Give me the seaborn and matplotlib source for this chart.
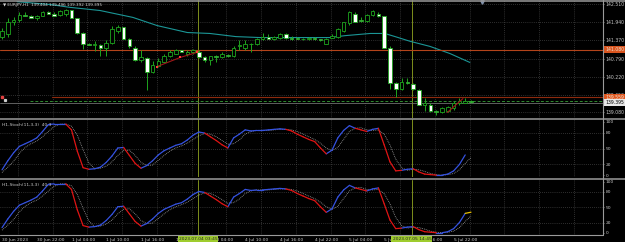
import numpy as np
import pandas as pd
import matplotlib
matplotlib.use("Agg")
import matplotlib.pyplot as plt
from matplotlib.lines import Line2D
import seaborn as sns

# ---- EURJPY H1 values ----
opens = [141.49, 141.56, 141.94, 142.03, 142.19, 142.16, 142.07, 142.16, 142.26, 142.22,
         142.19, 142.22, 142.35, 142.07, 141.62, 141.24, 141.21, 141.21, 141.14, 141.30,
         141.68, 141.78, 141.43, 141.14, 140.76, 140.80, 140.38, 140.57, 140.67, 140.86,
         140.95, 141.05, 140.95, 140.99, 140.99, 140.83, 140.76, 140.86, 140.83, 140.92,
         140.86, 141.18, 141.14, 141.27, 141.24, 141.40, 141.49, 141.40, 141.46, 141.56,
         141.46, 141.46, 141.43, 141.40, 141.46, 141.40, 141.27, 141.46, 141.49, 141.68,
         141.91, 142.22, 142.03, 142.00, 142.19, 142.22, 142.13, 141.14, 140.03, 139.84,
         140.06, 140.00, 139.81, 139.33, 139.33, 139.14, 139.08, 139.14, 139.21, 139.37,
         139.37, 139.46]
highs = [141.75, 142.07, 142.10, 142.26, 142.26, 142.19, 142.19, 142.29, 142.29, 142.26,
         142.32, 142.38, 142.35, 142.07, 141.65, 141.30, 141.34, 141.24, 141.37, 141.84,
         141.87, 141.81, 141.46, 141.18, 141.05, 140.83, 140.73, 140.80, 140.95, 141.05,
         141.11, 141.08, 141.08, 141.11, 141.05, 140.89, 140.89, 140.92, 140.99, 140.95,
         141.18, 141.37, 141.37, 141.30, 141.46, 141.62, 141.56, 141.52, 141.59, 141.59,
         141.52, 141.49, 141.46, 141.49, 141.49, 141.43, 141.46, 141.56, 141.75, 141.97,
         142.29, 142.26, 142.10, 142.22, 142.35, 142.26, 142.16, 141.18, 140.06, 140.19,
         140.19, 140.03, 139.84, 139.53, 139.37, 139.17, 139.24, 139.30, 139.43, 139.53,
         139.53, 139.49]
lows = [141.43, 141.49, 141.87, 141.97, 142.13, 142.07, 142.03, 142.13, 142.22, 142.16,
        142.16, 142.16, 142.07, 141.56, 141.11, 141.21, 141.02, 140.89, 140.86, 141.27,
        141.59, 141.43, 141.14, 140.73, 140.67, 139.81, 140.35, 140.51, 140.67, 140.83,
        140.95, 140.99, 140.89, 140.95, 140.80, 140.67, 140.60, 140.67, 140.80, 140.83,
        140.83, 141.05, 141.08, 140.99, 141.21, 141.37, 141.40, 141.37, 141.43, 141.43,
        141.37, 141.40, 141.37, 141.37, 141.37, 141.34, 141.24, 141.46, 141.46, 141.65,
        141.87, 141.94, 141.97, 141.97, 142.16, 142.10, 141.14, 139.84, 139.56, 139.81,
        139.97, 139.81, 139.33, 139.14, 139.11, 138.99, 139.05, 139.08, 139.17, 139.33,
        139.37, 139.39]
closes = [141.68, 141.94, 142.03, 142.19, 142.16, 142.07, 142.16, 142.26, 142.22, 142.16,
          142.29, 142.32, 142.07, 141.59, 141.27, 141.21, 141.24, 141.14, 141.30, 141.72,
          141.81, 141.43, 141.18, 140.76, 140.83, 140.38, 140.60, 140.70, 140.86, 140.99,
          141.08, 140.99, 140.99, 141.05, 140.83, 140.76, 140.86, 140.83, 140.95, 140.89,
          141.14, 141.21, 141.27, 141.24, 141.43, 141.49, 141.43, 141.49, 141.56, 141.46,
          141.43, 141.43, 141.40, 141.46, 141.40, 141.37, 141.43, 141.52, 141.72, 141.94,
          142.26, 141.97, 142.00, 142.19, 142.29, 142.13, 141.14, 140.03, 139.84, 140.06,
          140.03, 139.84, 139.33, 139.37, 139.14, 139.08, 139.21, 139.24, 139.37, 139.46,
          139.46, 139.40]

stoch_main = [10, 27, 42, 54, 59, 64, 70, 82, 95, 96, 96, 96, 85, 45, 14, 11, 12, 15, 24, 36,
              51, 52, 37, 22, 13, 18, 27, 38, 46, 51, 56, 59, 66, 75, 81, 79, 72, 65, 57, 51,
              70, 77, 85, 83, 84, 84, 85, 86, 87, 86, 83, 77, 72, 67, 63, 51, 40, 47, 70, 84,
              93, 88, 85, 82, 86, 88, 57, 25, 8, 9, 11, 12, 6, 2, 1, 0, 0, 2, 8, 20,
              38, 40.3]
stoch_signal = [5, 15, 26, 41, 52, 59, 64, 72, 82, 91, 96, 96, 92, 75, 48, 23, 12, 13, 17, 25,
                37, 46, 47, 37, 24, 18, 19, 28, 37, 45, 51, 55, 60, 67, 74, 78, 77, 72, 65, 58,
                59, 66, 77, 82, 84, 84, 84, 85, 86, 86, 85, 82, 77, 72, 67, 60, 51, 46, 52, 67,
                82, 88, 89, 85, 84, 85, 77, 57, 30, 14, 9, 11, 10, 7, 3, 1, 0, 1, 3, 10,
                22, 33]

# moving average (teal) read at a few bars
ma_bars = [2.6, 8.3, 11.7, 16.9, 22.6, 26.8, 32.0, 35.9, 40.4, 44.6, 51.5, 56.6,
           59.2, 63.6, 66.1, 67.9, 70.5, 73.9, 77.4, 80.8]
ma_vals = [142.60, 142.51, 142.42, 142.32, 142.10, 141.84, 141.62, 141.59, 141.49, 141.46,
           141.46, 141.46, 141.52, 141.59, 141.59, 141.49, 141.34, 141.18, 140.95, 140.67]

# small red trend segments
trend1_bars = [26.8, 30.8, 33.7]
trend1_vals = [140.54, 140.83, 140.99]
trend2_bars = [76.9, 79.6]
trend2_vals = [139.08, 139.52]

label_bars = list(range(0, 79, 6))
time_labels = ["30 Jun 2023", "30 Jun 22:00", "1 Jul 04:00", "1 Jul 10:00", "1 Jul 16:00",
               "1 Jul 22:00", "4 Jul 04:00", "4 Jul 10:00", "4 Jul 16:00", "4 Jul 22:00",
               "5 Jul 04:00", "5 Jul 10:00", "5 Jul 16:00", "5 Jul 22:00"]
price_ticks = [142.510, 141.940, 141.370, 140.790, 140.220, 139.650, 139.080]
stoch_ticks = [100, 80, 50, 20, 0]
cursor_bars = [33.85, 70.8]
cursor_labels = ["2023.07.04 03:45", "2023.07.05 14:45"]

level_red = 141.080
level_stop = 139.559
bid = 139.395

# ---- style ----
sns.set_theme(style="dark", rc={"axes.facecolor": "black", "figure.facecolor": "black",
                                "text.color": "#c8c8c8", "xtick.color": "#c8c8c8",
                                "ytick.color": "#c8c8c8"})
plt.rcParams['font.family'] = ['DejaVu Sans']

GREEN = "#1ea51e"
GRID = "#5a5a5a"
FRAME = "#9a9a9a"
OLIVE = "#7d8f1c"

W, H = 625, 242
fig = plt.figure(figsize=(W / 100, H / 100), dpi=100)


def px_axes(x0, y0, x1, y1):
    return fig.add_axes([x0 / W, 1 - y1 / H, (x1 - x0) / W, (y1 - y0) / H])


ax = px_axes(0, 0.5, 603, 117.5)
ax1 = px_axes(0, 119.5, 603, 177)
ax2 = px_axes(0, 179.5, 603, 234.5)

XLIM = (-0.35, 103.8)
grid_bars = np.arange(2.75, 104, 6)

for a in (ax, ax1, ax2):
    a.set_xlim(*XLIM)
    for s in a.spines.values():
        s.set_visible(False)
    for g in grid_bars:
        a.axvline(g, color=GRID, lw=0.5, ls=(0, (1, 2)), zorder=0)
    for c in cursor_bars:
        a.axvline(c, color=OLIVE, lw=0.7, zorder=1)
    a.yaxis.tick_right()
    a.tick_params(axis="y", length=1.0, width=0.4, pad=1.0, labelsize=3.3, colors="#c8c8c8")
    a.set_xlabel("")
    a.set_ylabel("")

# ---- main price panel ----
df = pd.DataFrame({"open": opens, "high": highs, "low": lows, "close": closes})
df["bar"] = np.arange(len(df))
bull = df["close"] >= df["open"]

ax.set_ylim(138.921, 142.637)
for p in price_ticks:
    ax.axhline(p, color=GRID, lw=0.5, ls=(0, (1, 2)), zorder=0)

ax.vlines(df["bar"], df["low"], df["high"], color=GREEN, lw=0.7, zorder=3)
body_h = (df["close"] - df["open"]).abs().clip(lower=0.012)
body_b = df[["open", "close"]].min(axis=1)
ax.bar(df["bar"], body_h, bottom=body_b, width=0.62,
       color=np.where(bull, "black", "white"), edgecolor=GREEN, linewidth=0.6, zorder=4)

sns.lineplot(x=ma_bars, y=ma_vals, color="#1b9696", lw=0.8, ax=ax, zorder=2)
sns.lineplot(x=trend1_bars, y=trend1_vals, color="#a01818", lw=0.8, ax=ax, zorder=5,
             marker="s", markersize=1.6, markerfacecolor="#ff3a3a", markeredgewidth=0)
sns.lineplot(x=trend2_bars, y=trend2_vals, color="#a01818", lw=0.8, ax=ax, zorder=5)

ax.axhline(level_red, color="#b4441a", lw=0.8, zorder=2)
ax.plot([8.6, XLIM[1]], [level_stop, level_stop], color="#8e2a0e", lw=0.8, zorder=2)
ax.plot([4.8, XLIM[1]], [bid + 0.04, bid + 0.04], color="#2e8b2e", lw=0.7,
        ls=(0, (3, 2)), zorder=2)
ax.axhline(bid, color="#6e6e6e", lw=0.6, zorder=1)
ax.plot([0.0], [level_stop + 0.01], "s", color="#e04040", ms=1.5, zorder=6)
ax.plot([0.5], [bid + 0.08], "s", color="#d0d0d0", ms=1.3, zorder=6)
ax.plot([82.9], [142.58], "v", color="#8090a8", ms=2.5, zorder=6, clip_on=False)

ax.set_yticks(price_ticks)
ax.set_yticklabels([f"{p:.3f}" for p in price_ticks])
ax.set_xticks([])

ytr = ax.get_yaxis_transform()
for val, fc, tc in [(level_red, "#d9541e", "#f0e0d0"), (level_stop, "#e0561e", "#f0e0d0"),
                    (bid, "#e8e8e8", "black")]:
    ax.text(1.004, val, f"{val:.3f}", transform=ytr, ha="left", va="center", fontsize=3.3,
            color=tc, zorder=10, clip_on=False,
            bbox=dict(boxstyle="square,pad=0.2", fc=fc, ec="none"))

ax.text(0.005, 0.965, "\u25BC EURJPY,H1  139.404 139.496 139.392 139.395",
        transform=ax.transAxes, ha="left", va="center", fontsize=3.0, color="#d8d8d8")


# ---- stochastic panels ----
def stoch_segments(main, signal):
    rows = []
    for i in range(len(main) - 1):
        d = "up" if main[i + 1] >= signal[i + 1] else "down"
        rows += [(i, i, main[i], d), (i, i + 1, main[i + 1], d)]
    return pd.DataFrame(rows, columns=["seg", "bar", "val", "dir"])


pal = {"up": "#3552e0", "down": "#e01414"}
n = len(stoch_main) - 1
for a in (ax1, ax2):
    a.set_ylim(-3.5, 104.5)
    for lv in (80, 50, 20):
        a.axhline(lv, color=GRID, lw=0.5, ls=(0, (1, 2)), zorder=0)
    sns.lineplot(x=np.arange(len(stoch_signal)), y=stoch_signal, color="#a0a0a0", lw=0.6,
                 ls=(0, (1, 1.2)), ax=a, zorder=2)
    seg = stoch_segments(stoch_main[:n], stoch_signal[:n])
    sns.lineplot(data=seg, x="bar", y="val", hue="dir", units="seg", estimator=None,
                 palette=pal, lw=0.9, legend=False, sort=False, ax=a, zorder=3)
    a.set_yticks(stoch_ticks)
    a.set_yticklabels([str(t) for t in stoch_ticks])
    a.tick_params(axis="y", labelsize=3.2)
    a.set_xlabel("")
    a.set_ylabel("")
    a.text(0.004, 0.9, "H1-Stoch(11,3,3)  40.3", transform=a.transAxes, ha="left",
           va="center", fontsize=3.2, color="#c8c8c8")

# last bar in yellow on lower panel
sns.lineplot(x=[n - 1, n], y=stoch_main[-2:], color="#e8c000", lw=0.9, ax=ax2, zorder=4)

ax1.set_xticks([])
ax2.set_xticks(label_bars)
ax2.set_xticklabels(time_labels, ha="left", fontsize=3.2, color="#c8c8c8")
ax2.tick_params(axis="x", length=1.5, width=0.4, pad=1.0, colors="#c8c8c8")

xtr = ax2.get_xaxis_transform()
for b, lab in zip(cursor_bars, cursor_labels):
    ax2.text(b, -0.085, lab, transform=xtr, ha="center", va="center", fontsize=3.2,
             color="#202020", zorder=10, clip_on=False,
             bbox=dict(boxstyle="square,pad=0.25", fc="#9fcc2e", ec="none"))

# panel frames
for y in (0.5, 118.5, 178.5):
    fig.add_artist(Line2D([0, 1], [1 - y / H, 1 - y / H], color=FRAME, lw=1.1))
fig.add_artist(Line2D([0, 603 / W], [1 - 235 / H, 1 - 235 / H], color=FRAME, lw=0.8))
fig.add_artist(Line2D([603 / W, 603 / W], [1 - 235 / H, 1], color=FRAME, lw=0.8))

fig.savefig("out.png", dpi=100, facecolor="black")
